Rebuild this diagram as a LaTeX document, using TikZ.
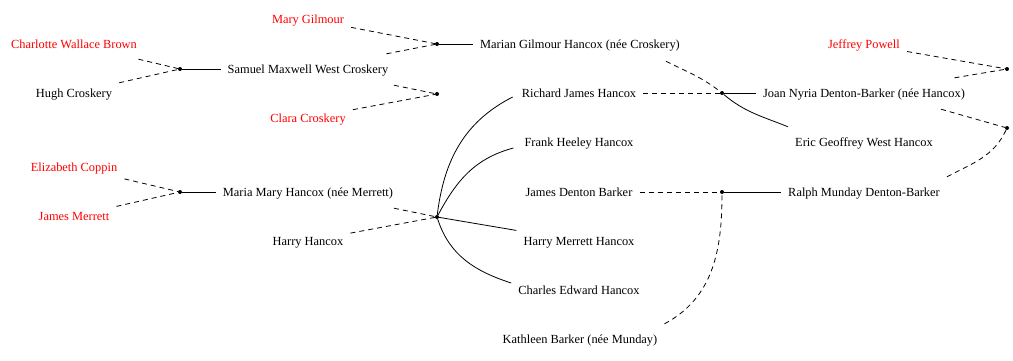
\documentclass[tikz,border=0pt]{standalone}
\usepackage{fontspec}
\setmainfont{Liberation Serif}
\usetikzlibrary{calc}
\begin{document}
\begin{tikzpicture}[x=1pt,y=-1pt,
  person/.style={rectangle, inner xsep=7pt, inner ysep=0pt, minimum height=30pt, text height=8pt, text depth=0pt, font=\fontsize{12.4}{14}\selectfont},
  ext/.style={person, text=red},
  union/.style={circle, fill=black, inner sep=0pt, minimum size=4pt},
  rel/.style={line width=0.8pt, dash pattern=on 5pt off 4pt},
  kin/.style={line width=0.8pt}]
\useasboundingbox (0,0) rectangle (1013,360);
% people
\node[ext] (mary) at (308,19) {Mary Gilmour};
\node[ext] (charlotte) at (74,44) {Charlotte Wallace Brown};
\node[person] (hugh) at (74,93) {Hugh Croskery};
\node[person] (samuel) at (308,69) {Samuel Maxwell West Croskery};
\node[ext] (clara) at (308,118) {Clara Croskery};
\node[person] (marian) at (580,44) {Marian Gilmour Hancox (née Croskery)};
\node[ext] (elizabeth) at (74,167) {Elizabeth Coppin};
\node[ext] (jmerrett) at (74,216) {James Merrett};
\node[person] (maria) at (308,192) {Maria Mary Hancox (née Merrett)};
\node[person] (harry) at (308,241) {Harry Hancox};
\node[person] (richard) at (579,93) {Richard James Hancox};
\node[person] (frank) at (579,142) {Frank Heeley Hancox};
\node[person] (jdb) at (579,192) {James Denton Barker};
\node[person] (hmh) at (579,241) {Harry Merrett Hancox};
\node[person] (charles) at (579,290) {Charles Edward Hancox};
\node[person] (kathleen) at (580,339) {Kathleen Barker (née Munday)};
\node[ext] (jeffrey) at (864,44) {Jeffrey Powell};
\node[person] (joan) at (864,93) {Joan Nyria Denton-Barker (née Hancox)};
\node[person] (eric) at (864,142) {Eric Geoffrey West Hancox};
\node[person] (ralph) at (864,192) {Ralph Munday Denton-Barker};
% unions
\node[union] (u1) at (180,69) {};
\node[union] (u2) at (437,44) {};
\node[union] (u3) at (437,94) {};
\node[union] (u4) at (180,192) {};
\node[union] (u5) at (437,217) {};
\node[union] (u6) at (722,93) {};
\node[union] (u7) at (722,192) {};
\node[union] (u8) at (1007,69) {};
\node[union] (u9) at (1007,128) {};
% partner links
\draw[rel] (charlotte) -- (u1);
\draw[rel] (hugh) -- (u1);
\draw[rel] (mary) -- (u2);
\draw[rel] (samuel) -- (u2);
\draw[rel] ($(samuel.south)+(86,1)$) -- (u3);
\draw[rel] (clara) -- (u3);
\draw[rel] (elizabeth) -- (u4);
\draw[rel] (jmerrett) -- (u4);
\draw[rel] ($(maria.south)+(86,1)$) -- (u5);
\draw[rel] (harry) -- (u5);
\draw[rel] ($(marian.south)+(86,2)$) to[out=-27,in=142] (u6);
\draw[rel] (richard) -- (u6);
\draw[rel] (jdb) -- (u7);
\draw[rel] (kathleen.north east) to[out=28,in=-90] (u7);
\draw[rel] (jeffrey) -- (u8);
\draw[rel] (joan) -- (u8);
\draw[rel] ($(joan.south)+(77,1)$) -- (u9);
\draw[rel] (ralph.north east) to[out=28,in=-115] (u9);
% child links
\draw[kin] (u1) -- (samuel);
\draw[kin] (u2) -- (marian);
\draw[kin] (u4) -- (maria);
\draw[kin] (u5) to[out=83,in=-153] ($(richard.west)+(-2,4)$);
\draw[kin] (u5) to[out=62,in=-165] ($(frank.west)+(-4,6)$);
\draw[kin] (u5) -- (hmh);
\draw[kin] (u5) to[out=-72,in=162] ($(charles.west)+(0,-7)$);
\draw[kin] (u6) -- (joan);
\draw[kin] (u6) to[out=-40,in=158] (eric.north west);
\draw[kin] (u7) -- (ralph);
\end{tikzpicture}
\end{document}
